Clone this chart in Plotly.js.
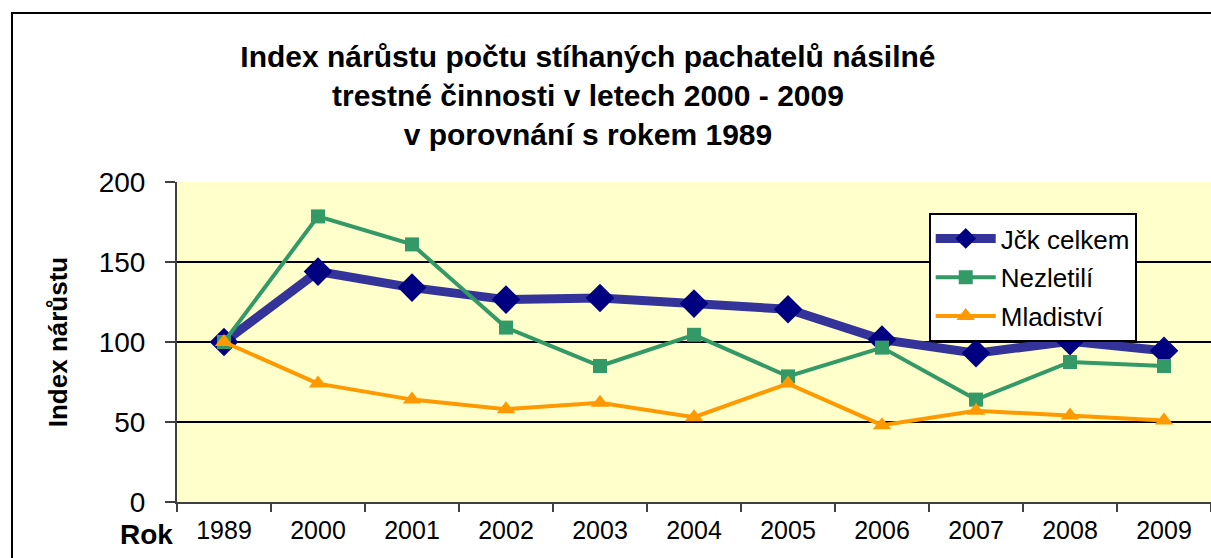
<!DOCTYPE html>
<html>
<head>
<meta charset="utf-8">
<script src="https://cdn.plot.ly/plotly-3.0.1.min.js"></script>
<style>
  html, body { margin: 0; padding: 0; background: #fff; }
  #wrap { position: relative; width: 1211px; height: 558px; overflow: hidden; }
  #chart { position: absolute; left: 0; top: 0; width: 1211px; height: 558px; }
  #frame { position: absolute; left: 11px; top: 12px; width: 1300px; height: 700px;
           border-left: 2px solid #000; border-top: 2px solid #000; pointer-events: none; }
</style>
</head>
<body>
<div id="wrap">
  <div id="chart"></div>
  <div id="frame"></div>
</div>
<script>
const years = ["1989", "2000", "2001", "2002", "2003", "2004", "2005", "2006", "2007", "2008", "2009"];
const jckCelkem = [100, 144, 134, 126.5, 127.5, 124, 120.5, 101.5, 93, 100.5, 94.5];
const nezletili = [100, 178.5, 161, 109, 85, 104.5, 78.5, 96.5, 64, 87.5, 85];
const mladistvi = [100, 74, 64, 58, 62, 53, 74, 48, 57, 54, 51];
const seriesNames = ["Jčk celkem", "Nezletilí", "Mladiství"];
const yTicks = [0, 50, 100, 150, 200];

const font = "Liberation Sans, Arial, sans-serif";

const traces = [
  {
    x: years, y: jckCelkem, name: seriesNames[0], type: "scatter", mode: "lines+markers",
    line: { color: "#333399", width: 9 },
    marker: { symbol: "diamond", size: 22, color: "#000080" },
    legendgroup: "a"
  },
  {
    x: years, y: nezletili, name: seriesNames[1], type: "scatter", mode: "lines+markers",
    line: { color: "#339966", width: 4 },
    marker: { symbol: "square", size: 14, color: "#339966" },
    legendgroup: "b"
  },
  {
    x: years, y: mladistvi, name: seriesNames[2], type: "scatter", mode: "lines+markers",
    line: { color: "#FF9900", width: 4 },
    marker: { symbol: "triangle-up", size: 16, color: "#FF9900" },
    legendgroup: "c"
  }
];

const layout = {
  width: 1211, height: 558,
  margin: { l: 177, r: 0, t: 182, b: 56, pad: 0 },
  paper_bgcolor: "#ffffff",
  plot_bgcolor: "#FFFFCC",
  font: { family: font, color: "#000" },
  title: {
    text: "<b>Index nárůstu počtu stíhaných pachatelů násilné<br>trestné činnosti v letech 2000 - 2009<br>v porovnání s rokem 1989</b>",
    font: { family: font, size: 30, color: "#000" },
    xref: "container", x: 0.4855, xanchor: "center",
    yref: "container", y: 0.88, yanchor: "top"
  },
  xaxis: {
    type: "category",
    range: [-0.5, 10.5],
    showline: true, linecolor: "#404040", linewidth: 2,
    ticks: "outside", tickson: "boundaries", ticklen: 8, tickwidth: 2, tickcolor: "#404040",
    showgrid: false,
    tickfont: { family: font, size: 25, color: "#000" },
    ticklabelstandoff: 5,
    fixedrange: true
  },
  yaxis: {
    range: [0, 200],
    tickvals: yTicks,
    showline: true, linecolor: "#404040", linewidth: 2,
    ticks: "outside", ticklen: 10, tickwidth: 2, tickcolor: "#404040",
    showgrid: true, gridcolor: "#000000", gridwidth: 1.5,
    zeroline: false,
    tickfont: { family: font, size: 28, color: "#000" },
    ticklabelstandoff: 14,
    title: { text: "<b>Index nárůstu</b>", font: { family: font, size: 26, color: "#000" }, standoff: 24 },
    fixedrange: true
  },
  showlegend: true,
  legend: {
    x: 0.727, y: 0.903, xanchor: "left", yanchor: "top",
    bgcolor: "#ffffff", bordercolor: "#000000", borderwidth: 2,
    font: { family: font, size: 26, color: "#000" },
    traceorder: "grouped", tracegroupgap: 2,
    itemwidth: 60
  },
  annotations: [
    {
      text: "<b>Rok</b>", xref: "paper", yref: "paper", x: 0, y: 0,
      xanchor: "right", yanchor: "top", xshift: -2, yshift: -15,
      showarrow: false, font: { family: font, size: 28, color: "#000" }
    }
  ]
};

Plotly.newPlot("chart", traces, layout, { displayModeBar: false, staticPlot: true });
</script>
</body>
</html>
